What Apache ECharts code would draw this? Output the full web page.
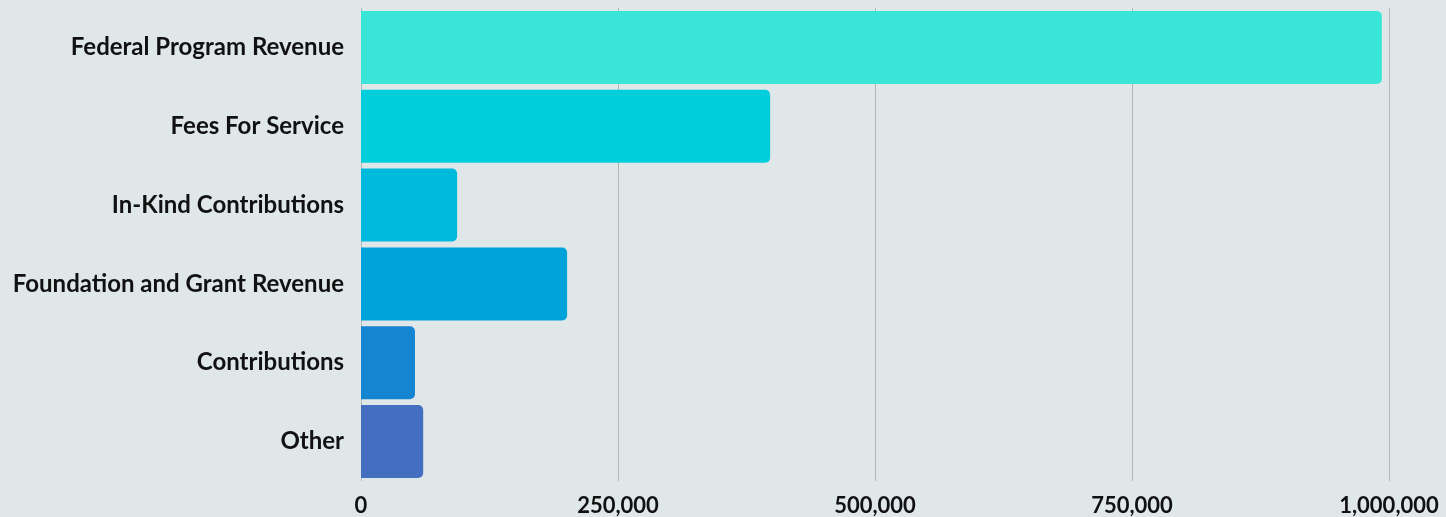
<!DOCTYPE html>
<html>
<head>
<meta charset="utf-8">
<script src="https://cdn.jsdelivr.net/npm/echarts@6/dist/echarts.min.js"></script>
<style>
  html, body { margin: 0; padding: 0; }
  body { background: #dfe7e9; }
  .bar-chart { width: 1446px; height: 517px; }
</style>
</head>
<body>
<div class="bar-chart"></div>
<script>
// revenue sources, top to bottom as shown
const categories = [
  'Federal Program Revenue',
  'Fees For Service',
  'In-Kind Contributions',
  'Foundation and Grant Revenue',
  'Contributions',
  'Other'
]
const revenue = [993000, 398000, 93500, 200500, 52500, 60500]
const barColors = ['#38e5d6', '#00cfdb', '#00bade', '#00a2da', '#1585d1', '#446ebf']
const xTicks = [0, 250000, 500000, 750000, 1000000]

const chart = echarts.init(document.querySelector('.bar-chart'))

const option = {
  backgroundColor: 'transparent',
  textStyle: { fontFamily: 'Lato' },
  grid: { left: 361, right: 57, top: 8, bottom: 35 },
  xAxis: {
    type: 'value',
    min: xTicks[0],
    max: xTicks[xTicks.length - 1],
    interval: 250000,
    axisLine: { show: false },
    axisTick: { show: false },
    splitLine: { lineStyle: { color: '#b3b7b7', width: 1 } },
    axisLabel: {
      margin: 14,
      fontSize: 22,
      fontWeight: 'bold',
      color: '#111',
      formatter: v => v.toLocaleString('en-US')
    }
  },
  yAxis: {
    type: 'category',
    data: categories,
    inverse: true,
    axisLine: { show: false },
    axisTick: { show: false },
    axisLabel: {
      margin: 17,
      fontSize: 24,
      fontWeight: 'bold',
      color: '#111',
      padding: [4, 0, 0, 0]
    }
  },
  series: [
    {
      type: 'bar',
      barWidth: 73,
      data: revenue.map((v, i) => ({
        value: v,
        itemStyle: { color: barColors[i] }
      })),
      itemStyle: { borderRadius: [0, 5, 5, 0] }
    }
  ]
}

chart.setOption(option)
</script>
</body>
</html>
